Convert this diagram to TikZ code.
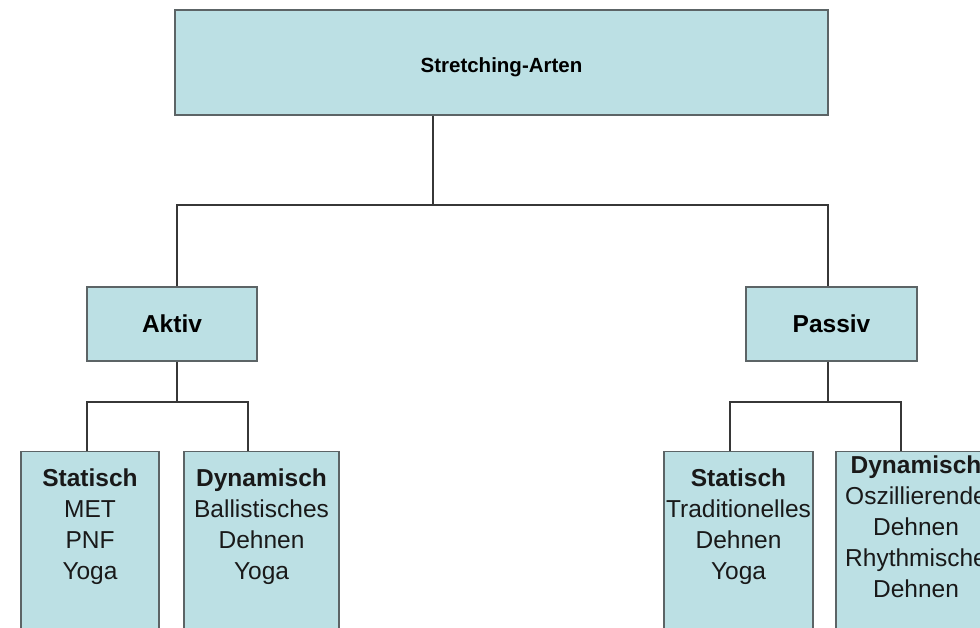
\documentclass[tikz,border=0pt]{standalone}
\usepackage{fontspec}
\setmainfont{Liberation Sans}
\definecolor{boxfill}{RGB}{188,224,228}
\definecolor{boxline}{RGB}{92,100,102}
\definecolor{conn}{RGB}{55,55,55}
\tikzset{
  box/.style={draw=boxline, fill=boxfill, line width=1.4pt, inner sep=0pt},
  txt/.style={align=center, inner sep=0pt, font=\fontsize{24.5}{31}\selectfont, text=black!90},
  conline/.style={draw=conn, line width=1.3pt},
}
\begin{document}
\begin{tikzpicture}[x=1pt,y=-1pt]
\useasboundingbox (0,0) rectangle (980,628);
\clip (0,0) rectangle (980,628);
\fill[white] (0,0) rectangle (980,628);

% top
\node[box, minimum width=653, minimum height=105] (top) at (501.5,62.5) {};
\node[font=\fontsize{20.5}{24}\selectfont\bfseries, inner sep=0pt] (toptxt) at ([yshift=-5]top.center) {Stretching-Arten};

% level 2
\node[box, minimum width=170, minimum height=74, font=\fontsize{24.5}{30}\selectfont\bfseries] (aktiv) at (172,324) {Aktiv};
\node[box, minimum width=171, minimum height=74, font=\fontsize{24.5}{30}\selectfont\bfseries] (passiv) at (831.5,324) {Passiv};

% level 3 boxes
\node[box, minimum width=138, minimum height=220, anchor=north] (sa) at (90,451) {};
\node[box, minimum width=155, minimum height=220, anchor=north] (da) at (261.5,451) {};
\node[box, minimum width=149, minimum height=220, anchor=north] (sp) at (738.5,451) {};
\node[box, minimum width=160, minimum height=220, anchor=north] (dp) at (916,451) {};

% level 3 texts
\node[txt] (sat) at ([yshift=-76]sa.north) {\textbf{Statisch}\\MET\\PNF\\Yoga};
\node[txt] (dat) at ([yshift=-76]da.north) {\textbf{Dynamisch}\\Ballistisches\\Dehnen\\Yoga};
\node[txt] (spt) at ([yshift=-76]sp.north) {\textbf{Statisch}\\Traditionelles\\Dehnen\\Yoga};
\node[txt] (dpt) at ([yshift=-76]dp.north) {\textbf{Dynamisch}\\Oszillierende\\Dehnen\\Rhythmische\\Dehnen};

% connectors
\coordinate (j1) at (433,205);
\draw[conline] (top.south -| j1) -- (j1);
\draw[conline] ([xshift=5]aktiv.north) |- (j1) -| ([xshift=-3.5]passiv.north);

\coordinate (j2) at (177,402);
\draw[conline] ([xshift=5]aktiv.south) -- (j2);
\draw[conline] ([xshift=-3]sa.north) |- (j2) -| ([xshift=-13.5]da.north);

\coordinate (j3) at (828,402);
\draw[conline] ([xshift=-3.5]passiv.south) -- (j3);
\draw[conline] ([xshift=-8.5]sp.north) |- (j3) -| ([xshift=-15]dp.north);
\end{tikzpicture}
\end{document}
